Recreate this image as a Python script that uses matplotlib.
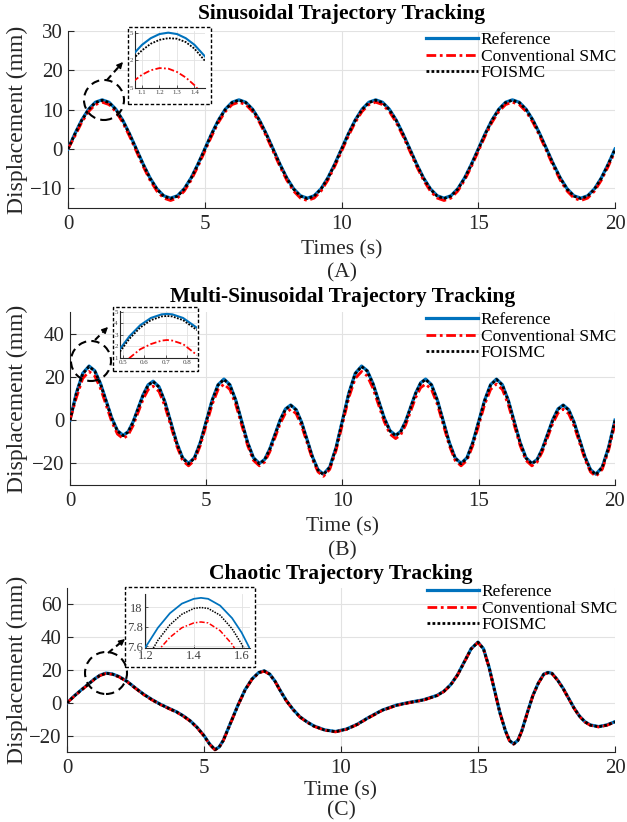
import matplotlib
matplotlib.use('Agg')
import matplotlib.pyplot as plt
from matplotlib.patches import Ellipse, Rectangle, FancyArrowPatch
from matplotlib.lines import Line2D

plt.rcParams['font.family'] = ['Liberation Serif', 'DejaVu Serif']

# ---------------- data ----------------
x_ticks = [0, 5, 10, 15, 20]
labels = ['Reference', 'Conventional SMC', 'FOISMC']

# Panel A: sinusoidal
t_a = [0, 0.25, 0.5, 0.75, 1, 1.25, 1.5, 1.75, 2, 2.25, 2.5, 2.75, 3, 3.25, 3.5, 3.75, 4, 4.25, 4.5, 4.75,
       5, 5.25, 5.5, 5.75, 6, 6.25, 6.5, 6.75, 7, 7.25, 7.5, 7.75, 8, 8.25, 8.5, 8.75, 9, 9.25, 9.5, 9.75,
       10, 10.25, 10.5, 10.75, 11, 11.25, 11.5, 11.75, 12, 12.25, 12.5, 12.75, 13, 13.25, 13.5, 13.75, 14, 14.25, 14.5, 14.75,
       15, 15.25, 15.5, 15.75, 16, 16.25, 16.5, 16.75, 17, 17.25, 17.5, 17.75, 18, 18.25, 18.5, 18.75, 19, 19.25, 19.5, 19.75, 20]
ref_a = [0, 3.86, 7.35, 10.11, 11.89, 12.5, 11.89, 10.11, 7.35, 3.86, 0, -3.86, -7.35, -10.11, -11.89, -12.5, -11.89, -10.11, -7.35, -3.86,
         0, 3.86, 7.35, 10.11, 11.89, 12.5, 11.89, 10.11, 7.35, 3.86, 0, -3.86, -7.35, -10.11, -11.89, -12.5, -11.89, -10.11, -7.35, -3.86,
         0, 3.86, 7.35, 10.11, 11.89, 12.5, 11.89, 10.11, 7.35, 3.86, 0, -3.86, -7.35, -10.11, -11.89, -12.5, -11.89, -10.11, -7.35, -3.86,
         0, 3.86, 7.35, 10.11, 11.89, 12.5, 11.89, 10.11, 7.35, 3.86, 0, -3.86, -7.35, -10.11, -11.89, -12.5, -11.89, -10.11, -7.35, -3.86, 0]
smc_a = [0, 3.26, 6.75, 9.51, 11.29, 11.9, 11.29, 9.51, 6.75, 3.26, -0.6, -4.46, -7.95, -10.71, -12.49, -13.1, -12.49, -10.71, -7.95, -4.46,
         -0.6, 3.26, 6.75, 9.51, 11.29, 11.9, 11.29, 9.51, 6.75, 3.26, -0.6, -4.46, -7.95, -10.71, -12.49, -13.1, -12.49, -10.71, -7.95, -4.46,
         -0.6, 3.26, 6.75, 9.51, 11.29, 11.9, 11.29, 9.51, 6.75, 3.26, -0.6, -4.46, -7.95, -10.71, -12.49, -13.1, -12.49, -10.71, -7.95, -4.46,
         -0.6, 3.26, 6.75, 9.51, 11.29, 11.9, 11.29, 9.51, 6.75, 3.26, -0.6, -4.46, -7.95, -10.71, -12.49, -13.1, -12.49, -10.71, -7.95, -4.46, -0.6]
fo_a = [0, 3.76, 7.25, 10.01, 11.79, 12.4, 11.79, 10.01, 7.25, 3.76, -0.1, -3.96, -7.45, -10.21, -11.99, -12.6, -11.99, -10.21, -7.45, -3.96,
        -0.1, 3.76, 7.25, 10.01, 11.79, 12.4, 11.79, 10.01, 7.25, 3.76, -0.1, -3.96, -7.45, -10.21, -11.99, -12.6, -11.99, -10.21, -7.45, -3.96,
        -0.1, 3.76, 7.25, 10.01, 11.79, 12.4, 11.79, 10.01, 7.25, 3.76, -0.1, -3.96, -7.45, -10.21, -11.99, -12.6, -11.99, -10.21, -7.45, -3.96,
        -0.1, 3.76, 7.25, 10.01, 11.79, 12.4, 11.79, 10.01, 7.25, 3.76, -0.1, -3.96, -7.45, -10.21, -11.99, -12.6, -11.99, -10.21, -7.45, -3.96, -0.1]
y_ticks_a = [-10, 0, 10, 20, 30]
# inset A
ti_a = [1.05, 1.10, 1.15, 1.20, 1.25, 1.30, 1.35, 1.40, 1.46]
refi_a = [12.11, 12.28, 12.40, 12.475, 12.5, 12.475, 12.40, 12.28, 12.07]
smci_a = [11.62, 11.74, 11.82, 11.86, 11.85, 11.79, 11.69, 11.55, 11.33]
foi_a = [12.03, 12.18, 12.30, 12.37, 12.40, 12.39, 12.33, 12.21, 11.99]
inset_a_xticks = [1.1, 1.2, 1.3, 1.4]
inset_a_xlabels = ['1.1', '1.2', '1.3', '1.4']
inset_a_yticks = [11.5, 12.0, 12.5]
inset_a_ylabels = ['5', '2', '5']

# Panel B: multi-sinusoidal
t_b = [0, 0.233, 0.467, 0.7,
       0.908, 1.117, 1.325, 1.533, 1.742, 1.95,
       2.133, 2.317, 2.5, 2.683, 2.867, 3.05,
       3.267, 3.483, 3.7, 3.917, 4.133, 4.35,
       4.567, 4.783, 5.0, 5.217, 5.433, 5.65,
       5.867, 6.083, 6.3, 6.517, 6.733, 6.95,
       7.142, 7.333, 7.525, 7.717, 7.908, 8.1,
       8.3, 8.5, 8.7, 8.9, 9.1, 9.3,
       9.533, 9.767, 10.0, 10.233, 10.467, 10.7,
       10.908, 11.117, 11.325, 11.533, 11.742, 11.95,
       12.133, 12.317, 12.5, 12.683, 12.867, 13.05,
       13.267, 13.483, 13.7, 13.917, 14.133, 14.35,
       14.567, 14.783, 15.0, 15.217, 15.433, 15.65,
       15.867, 16.083, 16.3, 16.517, 16.733, 16.95,
       17.142, 17.333, 17.525, 17.717, 17.908, 18.1,
       18.3, 18.5, 18.7, 18.9, 19.1, 19.3,
       19.533, 19.767, 20.0]
ref_b = [0, 12.5, 21.65, 25,
         22.86, 17, 9, 1, -4.86, -7,
         -5.33, -0.75, 5.5, 11.75, 16.33, 18,
         15.45, 8.5, -1, -10.5, -17.45, -20,
         -17.39, -10.25, -0.5, 9.25, 16.39, 19,
         16.39, 9.25, -0.5, -10.25, -17.39, -20,
         -18.19, -13.25, -6.5, 0.25, 5.19, 7,
         4.86, -1, -9, -17, -22.86, -25,
         -21.65, -12.5, 0, 12.5, 21.65, 25,
         22.86, 17, 9, 1, -4.86, -7,
         -5.26, -0.5, 6, 12.5, 17.26, 19,
         16.39, 9.25, -0.5, -10.25, -17.39, -20,
         -17.39, -10.25, -0.5, 9.25, 16.39, 19,
         16.39, 9.25, -0.5, -10.25, -17.39, -20,
         -18.19, -13.25, -6.5, 0.25, 5.19, 7,
         4.86, -1, -9, -17, -22.86, -25,
         -21.65, -12.5, 0]
smc_b = [0, 10.38, 19.25, 22.5,
         20.42, 14.74, 6.98, -0.78, -6.46, -8.54,
         -6.92, -2.48, 3.59, 9.65, 14.09, 15.71,
         13.24, 6.5, -2.72, -11.94, -18.68, -21.15,
         -18.62, -11.69, -2.24, 7.22, 14.15, 16.68,
         14.15, 7.22, -2.24, -11.69, -18.62, -21.15,
         -19.39, -14.6, -8.06, -1.51, 3.28, 5.04,
         2.96, -2.72, -10.48, -18.24, -23.92, -26,
         -22.75, -13.88, -1.75, 10.38, 19.25, 22.5,
         20.42, 14.74, 6.98, -0.78, -6.46, -8.54,
         -6.85, -2.24, 4.07, 10.38, 14.99, 16.68,
         14.15, 7.22, -2.24, -11.69, -18.62, -21.15,
         -18.62, -11.69, -2.24, 7.22, 14.15, 16.68,
         14.15, 7.22, -2.24, -11.69, -18.62, -21.15,
         -19.39, -14.6, -8.06, -1.51, 3.28, 5.04,
         2.96, -2.72, -10.48, -18.24, -23.92, -26,
         -22.75, -13.88, -1.75]
fo_b = [0, 12.3, 21.45, 24.8,
        22.66, 16.8, 8.8, 0.8, -5.06, -7.2,
        -5.53, -0.95, 5.3, 11.55, 16.13, 17.8,
        15.25, 8.3, -1.2, -10.7, -17.65, -20.2,
        -17.59, -10.45, -0.7, 9.05, 16.19, 18.8,
        16.19, 9.05, -0.7, -10.45, -17.59, -20.2,
        -18.39, -13.45, -6.7, 0.05, 4.99, 6.8,
        4.66, -1.2, -9.2, -17.2, -23.06, -25.2,
        -21.85, -12.7, -0.2, 12.3, 21.45, 24.8,
        22.66, 16.8, 8.8, 0.8, -5.06, -7.2,
        -5.46, -0.7, 5.8, 12.3, 17.06, 18.8,
        16.19, 9.05, -0.7, -10.45, -17.59, -20.2,
        -17.59, -10.45, -0.7, 9.05, 16.19, 18.8,
        16.19, 9.05, -0.7, -10.45, -17.59, -20.2,
        -18.39, -13.45, -6.7, 0.05, 4.99, 6.8,
        4.66, -1.2, -9.2, -17.2, -23.06, -25.2,
        -21.85, -12.7, -0.2]
y_ticks_b = [-20, 0, 20, 40]
# inset B
ti_b = [0.486, 0.53, 0.58, 0.63, 0.68, 0.705, 0.73, 0.78, 0.845]
refi_b = [21.78, 22.87, 23.82, 24.45, 24.76, 24.8, 24.76, 24.45, 23.6]
smci_b = [20.2, 21.0, 21.75, 22.2, 22.5, 22.55, 22.5, 22.2, 21.25]
foi_b = [21.55, 22.66, 23.62, 24.26, 24.58, 24.62, 24.58, 24.26, 23.4]
inset_b_xticks = [0.5, 0.6, 0.7, 0.8]
inset_b_xlabels = ['0.5', '0.6', '0.7', '0.8']
inset_b_yticks = [21, 22, 23, 24, 25]
inset_b_ylabels = ['1', '2', '3', '4', '5']

# Panel C: chaotic
t_c = [0, 0.25, 0.5, 0.75, 1.0, 1.2, 1.42, 1.65, 1.9, 2.2, 2.5, 2.8, 3.1, 3.4, 3.7, 4.0, 4.25, 4.5, 4.75, 5.0,
       5.2, 5.4, 5.55, 5.7, 5.85, 6.0, 6.25, 6.5, 6.75, 7.0, 7.2, 7.4, 7.6, 7.8, 8.0, 8.25, 8.5, 8.75, 9.0, 9.4,
       9.8, 10.2, 10.6, 11.0, 11.5, 12.0, 12.5, 13.0, 13.5, 13.75, 14.0, 14.25, 14.5, 14.75, 15.0, 15.2, 15.4, 15.6, 15.8, 16.0,
       16.15, 16.3, 16.45, 16.6, 16.8, 17.0, 17.2, 17.4, 17.55, 17.7, 17.9, 18.1, 18.3, 18.5, 18.7, 18.9, 19.1, 19.4, 19.7, 20.0]
ref_c = [0, 4, 7.6, 11, 14.5, 16.8, 18.1, 17.6, 16, 13, 9, 5.2, 2, -0.8, -3.2, -5.5, -8, -11, -15, -20,
         -25, -28.5, -27, -23, -17, -11, -1, 8, 14.5, 18.5, 19.5, 17.5, 13, 7, 1.5, -4, -8.5, -11.5, -14, -16.5,
         -17.5, -16, -13, -9, -4.5, -1.5, 0.3, 1.8, 4.5, 7, 11, 17, 25, 33, 37, 33, 22, 8, -6, -17,
         -23, -25, -23, -17, -6, 4.4, 12, 17.5, 18.5, 18, 14, 9, 3, -3, -8, -11.5, -13.5, -14.5, -13.5, -11.5]
smc_c = [0, 3.75, 7.35, 10.75, 14.25, 16.55, 17.85, 17.35, 15.75, 12.75, 8.75, 4.95, 1.75, -1.05, -3.45, -5.75, -8.25, -11.25, -15.25, -20.25,
         -25.25, -28.75, -27.25, -23.25, -17.25, -11.25, -1.25, 7.75, 14.25, 18.25, 19.25, 17.25, 12.75, 6.75, 1.25, -4.25, -8.75, -11.75, -14.25, -16.75,
         -17.75, -16.25, -13.25, -9.25, -4.75, -1.75, 0.05, 1.55, 4.25, 6.75, 10.75, 16.75, 24.75, 32.75, 36.75, 32.75, 21.75, 7.75, -6.25, -17.25,
         -23.25, -25.25, -23.25, -17.25, -6.25, 4.15, 11.75, 17.25, 18.25, 17.75, 13.75, 8.75, 2.75, -3.25, -8.25, -11.75, -13.75, -14.75, -13.75, -11.75]
fo_c = [0, 3.9, 7.5, 10.9, 14.4, 16.7, 18.0, 17.5, 15.9, 12.9, 8.9, 5.1, 1.9, -0.9, -3.3, -5.6, -8.1, -11.1, -15.1, -20.1,
        -25.1, -28.6, -27.1, -23.1, -17.1, -11.1, -1.1, 7.9, 14.4, 18.4, 19.4, 17.4, 12.9, 6.9, 1.4, -4.1, -8.6, -11.6, -14.1, -16.6,
        -17.6, -16.1, -13.1, -9.1, -4.6, -1.6, 0.2, 1.7, 4.4, 6.9, 10.9, 16.9, 24.9, 32.9, 36.9, 32.9, 21.9, 7.9, -6.1, -17.1,
        -23.1, -25.1, -23.1, -17.1, -6.1, 4.3, 11.9, 17.4, 18.4, 17.9, 13.9, 8.9, 2.9, -3.1, -8.1, -11.6, -13.6, -14.6, -13.6, -11.6]
y_ticks_c = [-20, 0, 20, 40, 60]
# inset C
ti_c = [1.196, 1.25, 1.30, 1.35, 1.40, 1.43, 1.46, 1.51, 1.56, 1.60, 1.635]
refi_c = [17.58, 17.79, 17.94, 18.04, 18.09, 18.1, 18.09, 18.02, 17.89, 17.74, 17.57]
smci_c = [17.34, 17.55, 17.69, 17.79, 17.84, 17.85, 17.84, 17.76, 17.62, 17.45, 17.27]
foi_c = [17.43, 17.66, 17.82, 17.93, 17.99, 18.0, 17.99, 17.92, 17.78, 17.62, 17.45]
inset_c_xticks = [1.2, 1.4, 1.6]
inset_c_xlabels = ['1.2', '1.4', '1.6']
inset_c_yticks = [17.6, 17.8, 18.0]
inset_c_ylabels = ['7.6', '7.8', '18']

# ---------------- layout helpers ----------------
W, H = 627, 822
fig = plt.figure(figsize=(W / 100, H / 100), dpi=100)


def frect(l, t, r, b):
    return [l / W, 1 - b / H, (r - l) / W, (b - t) / H]


def fpt(x, y):
    return (x / W, 1 - y / H)


BLUE = '#0072BD'
RED = '#FF0000'
BLK = '#000000'
GRID = '#e2e2e2'
AXC = '#262626'
RED_LS = (0, (3.5, 1.3, 1.0, 1.3))
BLK_LS = (0, (1.0, 0.8))
TICK_FS = 15
LAB_FS = 15.5
TITLE_FS = 15.5


def draw_lines(ax, t, r, s, f, lw):
    ax.plot(t, r, color=BLUE, lw=lw * 1.15, label=labels[0], zorder=3)
    ax.plot(t, s, color=RED, lw=lw, ls=RED_LS, label=labels[1], zorder=4)
    ax.plot(t, f, color=BLK, lw=lw, ls=BLK_LS, label=labels[2], zorder=5)


def main_panel(rect, t, r, s, f, ylim, yticks, title, title_y, xlabel, xlabel_y, letter, letter_y, leg_anchor):
    ax = fig.add_axes(frect(*rect))
    draw_lines(ax, t, r, s, f, 2.0)
    ax.set_xlim(0, 20)
    ax.set_ylim(*ylim)
    ax.set_xticks(x_ticks)
    ax.set_yticks(yticks)
    ax.grid(True, color=GRID, lw=0.8)
    ax.set_axisbelow(True)
    for sp in ['top', 'right']:
        ax.spines[sp].set_visible(False)
    for sp in ['left', 'bottom']:
        ax.spines[sp].set_linewidth(0.8)
        ax.spines[sp].set_color(AXC)
    ax.tick_params(direction='in', length=4, width=0.8, labelsize=TICK_FS, colors=AXC)
    ax.tick_params(axis='x', pad=5)
    ax.tick_params(axis='y', pad=4)
    cx = (rect[0] + rect[2]) / 2
    fig.text(*fpt(cx, title_y), title, ha='center', va='center', fontsize=TITLE_FS, fontweight='bold')
    fig.text(*fpt(cx, xlabel_y), xlabel, ha='center', va='center', fontsize=LAB_FS, color=AXC)
    fig.text(*fpt(cx, letter_y), letter, ha='center', va='center', fontsize=LAB_FS, color=AXC)
    fig.text(*fpt(17, (rect[1] + rect[3]) / 2), 'Displacement (mm)', rotation=90,
             ha='center', va='center', fontsize=17, color=AXC)
    ax.legend(loc='upper right', bbox_to_anchor=fpt(*leg_anchor), bbox_transform=fig.transFigure,
              frameon=False, fontsize=12.5, handlelength=3.0, handletextpad=0.15, labelspacing=0.02,
              borderpad=0, borderaxespad=0)
    return ax


def inset_panel(box, rect, t, r, s, f, xlim, ylim, xt, xl, yt, yl, fs, lw):
    fig.add_artist(Rectangle(fpt(box[0], box[3]), (box[2] - box[0]) / W, (box[3] - box[1]) / H,
                             transform=fig.transFigure, facecolor='white', edgecolor='black',
                             lw=1.0, ls=(0, (2.5, 1.5)), zorder=2))
    ia = fig.add_axes(frect(*rect), zorder=3)
    draw_lines(ia, t, r, s, f, lw)
    ia.set_xlim(*xlim)
    ia.set_ylim(*ylim)
    ia.set_xticks(xt)
    ia.set_xticklabels(xl)
    ia.set_yticks(yt)
    ia.set_yticklabels(yl)
    ia.grid(True, color=GRID, lw=0.6)
    ia.set_axisbelow(True)
    for sp in ['top', 'right']:
        ia.spines[sp].set_visible(False)
    for sp in ['left', 'bottom']:
        ia.spines[sp].set_linewidth(0.8)
        ia.spines[sp].set_color(AXC)
    ia.tick_params(direction='in', length=2, width=0.6, labelsize=fs, colors='#404040', pad=1.5)
    return ia


def marker(center, radius, a0, a1):
    fig.add_artist(Ellipse(fpt(*center), 2 * radius / W, 2 * radius / H, transform=fig.transFigure,
                           fill=False, ec='black', lw=1.5, ls=(0, (4, 2.5)), zorder=4))
    dx, dy = a1[0] - a0[0], a1[1] - a0[1]
    n = (dx ** 2 + dy ** 2) ** 0.5
    mid = (a1[0] - dx / n * 7, a1[1] - dy / n * 7)
    fig.add_artist(Line2D([a0[0] / W, mid[0] / W], [1 - a0[1] / H, 1 - mid[1] / H],
                          transform=fig.transFigure, color='black', lw=1.5, ls=(0, (3, 2)), zorder=4))
    fig.add_artist(FancyArrowPatch(fpt(*mid), fpt(*a1), transform=fig.transFigure,
                                   arrowstyle='-|>', mutation_scale=9, color='black', lw=1.0,
                                   shrinkA=0, shrinkB=0, zorder=5))


# ---------------- panel A ----------------
main_panel((68, 31, 615, 208), t_a, ref_a, smc_a, fo_a, (-15, 30), y_ticks_a,
           'Sinusoidal Trajectory Tracking', 14, 'Times (s)', 250, '(A)', 273, (616, 32))
inset_panel((128, 27, 211, 104), (135, 31, 205, 88), ti_a, refi_a, smci_a, foi_a,
            (1.06, 1.46), (11.5, 12.53), inset_a_xticks, inset_a_xlabels,
            inset_a_yticks, inset_a_ylabels, 5, 1.3)
marker((104, 100), 20, (107, 80), (123, 62))

# ---------------- panel B ----------------
main_panel((70, 312, 615, 485), t_b, ref_b, smc_b, fo_b, (-30, 50), y_ticks_b,
           'Multi-Sinusoidal Trajectory Tracking', 297, 'Time (s)', 527, '(B)', 551, (616, 312))
inset_panel((113, 307, 198, 371), (120, 311, 197, 358), ti_b, refi_b, smci_b, foi_b,
            (0.486, 0.845), (21, 25.05), inset_b_xticks, inset_b_xlabels,
            inset_b_yticks, inset_b_ylabels, 5, 1.3)
marker((91, 361), 20, (95, 340), (108, 327))

# ---------------- panel C ----------------
main_panel((67, 588, 615, 752), t_c, ref_c, smc_c, fo_c, (-30, 70), y_ticks_c,
           'Chaotic Trajectory Tracking', 574, 'Time (s)', 791, '(C)', 811, (617, 584))
inset_panel((125, 587, 255, 667), (145, 594, 250, 648), ti_c, refi_c, smci_c, foi_c,
            (1.196, 1.635), (17.58, 18.14), inset_c_xticks, inset_c_xlabels,
            inset_c_yticks, inset_c_ylabels, 9, 1.1)
marker((106, 673), 21, (108, 653), (125, 639))

fig.savefig('out.png', dpi=100)
